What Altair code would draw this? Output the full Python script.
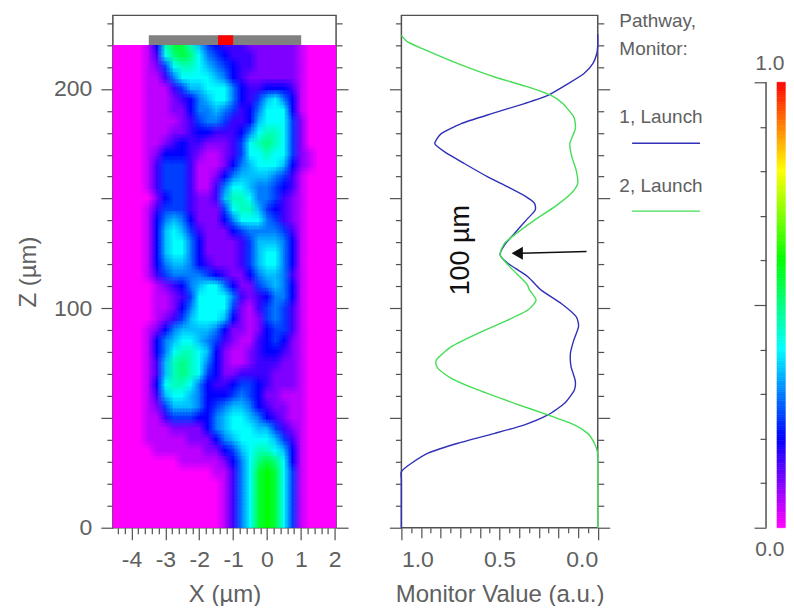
import altair as alt
import numpy as np
import pandas as pd

FONT = "Liberation Sans"
TXT = "#606060"
LINE = "#505050"

# heat map, rows from z=220 down to z=0 (5 um apart), columns x=-4.5..2.0 (0.25 um apart), in units of 0.05
z_rows = list(range(220, -5, -5))
x_cols = [-4.5 + 0.25 * i for i in range(27)]
heat_rows = [
 [0,0,0,0,1,4,9,11,11,9,7,5,4,3,3,3,2,2,2,2,2,2,1,0,0,0,0],
 [0,0,0,0,1,3,8,10,11,10,8,6,5,4,3,3,3,2,2,2,2,2,1,0,0,0,0],
 [0,0,0,0,1,2,5,8,9,9,8,7,6,5,4,3,3,2,2,2,2,2,1,0,0,0,0],
 [0,0,0,0,1,1,3,6,8,8,8,8,7,6,4,3,2,2,2,2,2,2,1,0,0,0,0],
 [0,0,0,0,1,1,1,3,5,7,7,8,8,8,6,4,3,3,4,4,4,3,1,0,0,0,0],
 [0,0,0,0,1,1,1,2,3,4,6,7,8,8,6,4,3,5,7,8,6,4,1,0,0,0,0],
 [0,0,0,0,1,1,1,2,2,4,6,6,7,6,5,3,4,6,8,8,8,4,1,0,0,0,0],
 [0,0,0,0,1,1,1,1,2,3,5,6,6,5,3,3,4,7,8,8,8,5,2,0,0,0,0],
 [0,0,0,0,1,1,1,2,2,3,4,4,3,3,3,4,6,8,9,9,8,5,2,0,0,0,0],
 [0,0,0,0,1,1,2,3,4,3,3,2,2,2,3,5,8,9,10,9,8,5,2,0,0,0,0],
 [0,0,0,0,1,2,4,4,4,3,2,1,1,2,3,5,8,8,9,8,8,5,2,1,0,0,0],
 [0,0,0,0,1,3,5,5,5,3,1,1,1,2,4,6,7,8,8,8,7,4,2,1,0,0,0],
 [0,0,0,0,1,3,5,5,5,3,1,1,2,4,6,7,7,7,7,6,5,3,1,0,0,0,0],
 [0,0,0,0,1,3,5,5,5,3,1,1,3,6,8,8,7,6,6,5,4,3,1,0,0,0,0],
 [0,0,0,0,0,2,4,5,5,3,2,2,3,7,9,9,8,6,6,5,3,2,1,0,0,0,0],
 [0,0,0,0,1,3,5,5,5,3,2,2,2,5,8,9,9,7,5,4,3,2,1,0,0,0,0],
 [0,0,0,0,1,4,6,7,6,4,2,2,2,4,6,8,8,8,6,5,3,2,1,0,0,0,0],
 [0,0,0,0,1,4,7,8,7,5,3,2,2,2,4,5,6,6,6,6,5,3,1,0,0,0,0],
 [0,0,0,0,1,4,7,8,8,6,4,2,2,2,2,3,5,7,7,7,6,4,1,0,0,0,0],
 [0,0,0,0,1,4,7,8,8,6,4,2,2,2,2,3,5,7,8,8,6,4,1,0,0,0,0],
 [0,0,0,0,1,4,6,7,7,6,4,3,2,2,2,3,5,7,8,8,6,4,1,0,0,0,0],
 [0,0,0,0,1,3,5,6,6,6,6,5,4,3,2,2,4,6,7,7,6,3,1,0,0,0,0],
 [0,0,0,0,0,1,2,3,4,6,7,8,8,6,4,2,2,5,6,7,6,4,1,0,0,0,0],
 [0,0,0,0,0,1,1,2,3,5,8,8,8,8,6,3,2,3,4,6,6,4,1,0,0,0,0],
 [0,0,0,0,0,1,1,2,4,6,8,8,8,8,5,2,1,3,5,6,5,3,1,0,0,0,0],
 [0,0,0,0,0,1,2,3,5,7,8,8,8,7,4,2,1,2,5,6,5,3,1,0,0,0,0],
 [0,0,0,0,1,2,4,6,7,7,7,7,6,4,2,2,1,2,4,5,5,3,1,0,0,0,0],
 [0,0,0,0,1,4,6,7,8,8,7,6,5,3,2,1,1,3,4,5,4,2,1,0,0,0,0],
 [0,0,0,0,1,4,6,8,9,9,8,7,4,2,1,1,2,3,4,4,3,2,1,0,0,0,0],
 [0,0,0,0,1,3,7,9,10,9,8,6,4,2,1,1,2,3,3,3,2,2,1,0,0,0,0],
 [0,0,0,0,1,3,7,9,10,9,8,5,4,2,2,3,3,3,3,2,2,2,1,0,0,0,0],
 [0,0,0,0,1,4,8,9,9,8,6,4,3,3,4,5,5,4,3,2,2,2,1,0,0,0,0],
 [0,0,0,0,1,3,7,8,8,7,6,4,4,4,5,6,5,4,2,2,1,1,1,0,0,0,0],
 [0,0,0,0,1,2,5,7,7,7,6,4,5,6,7,7,6,4,3,2,2,1,1,0,0,0,0],
 [0,0,0,0,1,1,3,5,5,5,4,4,6,7,8,8,7,6,4,3,2,1,1,0,0,0,0],
 [0,0,0,0,1,1,1,2,2,2,2,4,6,7,8,8,8,7,7,5,3,2,1,0,0,0,0],
 [0,0,0,0,1,1,1,1,1,2,2,2,4,6,7,8,8,8,8,7,5,3,1,0,0,0,0],
 [0,0,0,0,0,1,1,1,1,1,1,2,2,4,5,7,8,9,9,8,7,4,1,0,0,0,0],
 [0,0,0,0,0,0,0,0,1,1,1,1,1,2,4,6,8,10,11,10,8,4,1,0,0,0,0],
 [0,0,0,0,0,0,0,0,0,0,0,0,1,1,3,6,8,11,12,11,8,5,1,0,0,0,0],
 [0,0,0,0,0,0,0,0,0,0,0,0,0,1,3,6,8,11,12,11,8,5,1,0,0,0,0],
 [0,0,0,0,0,0,0,0,0,0,0,0,0,1,3,6,8,11,12,11,8,5,1,0,0,0,0],
 [0,0,0,0,0,0,0,0,0,0,0,0,0,1,3,6,8,11,12,11,8,5,1,0,0,0,0],
 [0,0,0,0,0,0,0,0,0,0,0,0,0,1,3,6,8,11,12,11,8,5,1,0,0,0,0],
 [0,0,0,0,0,0,0,0,0,0,0,0,0,1,3,6,8,11,12,11,8,5,1,0,0,0,0],
]

blue_z = [225,220,216,211.5,207,202.4,197,193.3,188.7,184.2,179.6,175,171.3,166,159.9,155.3,150.8,147.8,144.7,140.2,134.1,128.8,124.3,120.5,114.4,108.3,102.2,96.2,91.6,85.5,79.5,73.4,67.3,62.8,56.7,51.4,46.9,43,38.5,34,29.4,25.6,22,15,0]
blue_v = [0,0,.005,.025,.07,.15,.254,.373,.54,.695,.797,.83,.78,.68,.56,.458,.364,.322,.319,.364,.424,.475,.497,.458,.356,.288,.186,.11,.098,.122,.139,.136,.115,.119,.169,.254,.373,.525,.712,.864,.949,1,1,1,1]
green_z = [224.4,221.3,217.5,211.5,205.4,200.9,197,193.3,187.2,181.9,175,169,163,156.9,152.3,146.2,140.2,134.1,129.6,124.3,119,111.4,108.3,103.7,99.2,94.6,88.6,82.5,76.4,72.6,68.1,62.8,56.7,51.4,46.9,43,38.5,34,30,20,0]
green_v = [1,.966,.873,.712,.525,.356,.237,.178,.122,.114,.142,.132,.11,.102,.136,.22,.322,.415,.475,.497,.449,.364,.347,.314,.356,.458,.61,.746,.822,.814,.746,.61,.424,.254,.119,.051,.017,0,0,0,0]

color_stops = [0, .2, .4, .6, .8, 1]
color_hues = ["#ff00ff", "#0000ff", "#00ffff", "#00ff00", "#ffff00", "#ff0000"]
color_scale = alt.Scale(domain=color_stops, range=color_hues, interpolate="rgb")

ZMAX = 233.5
y_scale = alt.Scale(domain=[0, ZMAX], nice=False, zero=False)
x1_scale = alt.Scale(domain=[-4.55, 2.04], nice=False, zero=False)
x2_scale = alt.Scale(domain=[1, 0], nice=False, zero=False)
z_ticks = list(range(0, 231, 10))
x1_ticks = [round(-4.4 + 0.2 * i, 1) for i in range(33)]
x2_ticks = [round(i * 0.05, 2) for i in range(21)]
cb_ticks = [round(i * 0.1, 1) for i in range(11)]

z_size = alt.expr("datum.value % 50 === 0 ? 12 : 6")
common = dict(domain=False, tickColor=LINE, tickWidth=1.2, grid=False, labelFont=FONT, labelFontSize=23,
              labelColor=TXT, titleFont=FONT, titleFontSize=24, titleFontWeight="normal", titleColor=TXT, labelOverlap=False)

left_axis = alt.Axis(values=z_ticks, tickSize=z_size, orient="left", title="Z (µm)", titlePadding=13, labelPadding=9,
                     labelExpr="datum.value % 100 === 0 ? datum.label : ''", **common)
plain_left = alt.Axis(values=z_ticks, tickSize=z_size, orient="left", title=None, labels=False, **common)
right_axis = alt.Axis(values=z_ticks, tickSize=z_size, orient="right", title=None, labels=False, **common)
x1_axis = alt.Axis(values=x1_ticks, tickSize=alt.expr("abs(datum.value-round(datum.value))<0.001 ? 12 : 6"),
                   title="X (µm)", titlePadding=11, labelPadding=9,
                   labelExpr="abs(datum.value-round(datum.value))<0.001 ? ''+round(datum.value) : ''", **common)
x2_axis = alt.Axis(values=x2_ticks,
                   tickSize=alt.expr("abs(datum.value*2-round(datum.value*2))<0.001 ? 12 : (abs(datum.value*10-round(datum.value*10))<0.001 ? 10 : 5)"),
                   title="Monitor Value (a.u.)", titlePadding=11, labelPadding=9, format=".1f",
                   labelExpr="abs(datum.value*2-round(datum.value*2))<0.001 ? datum.label : ''", **common)

heat = pd.DataFrame([
    dict(x0=x - .14, x1=x + .14,
         z0=(-10 if z == 0 else z - 2.7), z1=(230 if z == 220 else z + 2.7), v=c / 20)
    for z, row in zip(z_rows, heat_rows) for x, c in zip(x_cols, row)])

base_right = pd.DataFrame({"z": [0]})
frame = alt.ViewConfig(stroke=LINE, strokeWidth=1.5)

# the picture is soft: each cell is drawn several times, slightly displaced, so that the steps blend
shifts = [(dx, dz) for dz in (-1.67, 0, 1.67) for dx in (-0.083, 0, 0.083)]
heat_layers = []
for k, (dx, dz) in enumerate(shifts):
    first = k == 0
    heat_layers.append(
        alt.Chart(heat).transform_calculate(
            xa=f"datum.x0+({dx})", xb=f"datum.x1+({dx})",
            za=f"clamp(datum.z0+({dz}),0,220)", zb=f"clamp(datum.z1+({dz}),0,220)"
        ).mark_rect(clip=True, opacity=1 / (k + 1), strokeWidth=0).encode(
            x=alt.X("xa:Q", scale=x1_scale, axis=x1_axis if first else None), x2="xb:Q",
            y=alt.Y("za:Q", scale=y_scale, axis=left_axis if first else None), y2="zb:Q",
            color=alt.Color("v:Q", scale=color_scale, legend=None)))

strip = pd.DataFrame({"a": [-3.49, -1.445], "b": [1.01, -1.0], "z0": [220, 220], "z1": [224.4, 224.4], "c": ["#808080", "#ff0000"]})
strip_layer = alt.Chart(strip).mark_rect().encode(
    x=alt.X("a:Q", scale=x1_scale, axis=None), x2="b:Q",
    y=alt.Y("z0:Q", scale=y_scale, axis=None), y2="z1:Q",
    fill=alt.Fill("c:N", scale=None))

right1 = alt.Chart(base_right).mark_point(opacity=0).encode(y=alt.Y("z:Q", scale=y_scale, axis=right_axis))
p1 = alt.layer(*heat_layers, strip_layer, right1).resolve_axis(y="independent", x="independent").properties(width=223.5, height=513, view=frame)

curves = pd.concat([
    pd.DataFrame({"z": blue_z, "v": blue_v, "s": "1", "o": range(len(blue_z))}),
    pd.DataFrame({"z": green_z, "v": green_v, "s": "2", "o": range(len(green_z))}),
])
line_layer = alt.Chart(curves).mark_line(strokeWidth=1.4, clip=False, interpolate="cardinal", tension=0.4).encode(
    x=alt.X("v:Q", scale=x2_scale, axis=x2_axis),
    y=alt.Y("z:Q", scale=y_scale, axis=plain_left),
    order="o:Q",
    color=alt.Color("s:N", scale=alt.Scale(domain=["1", "2"], range=["#3030b8", "#44dd55"]), legend=None))

legend_text = pd.DataFrame({
    "t": ["Pathway,", "Monitor:", "1, Launch", "2, Launch"],
    "v": [-0.11, -0.11, -0.11, -0.11],
    "z": [230.8, 218, 187, 155.7]})
legend_layer = alt.Chart(legend_text).mark_text(align="left", baseline="middle", font=FONT, fontSize=19, color=TXT).encode(
    x=alt.X("v:Q", scale=x2_scale, axis=None), y=alt.Y("z:Q", scale=y_scale, axis=None), text="t:N")

legend_rules = pd.DataFrame({"a": [-0.175, -0.175], "b": [-0.521, -0.521], "z": [175.2, 144.3], "s": ["1", "2"]})
legend_rule_layer = alt.Chart(legend_rules).mark_rule(strokeWidth=1.4).encode(
    x=alt.X("a:Q", scale=x2_scale, axis=None), x2="b:Q", y=alt.Y("z:Q", scale=y_scale, axis=None),
    color=alt.Color("s:N", scale=alt.Scale(domain=["1", "2"], range=["#3030b8", "#44dd55"]), legend=None))

note = pd.DataFrame({"t": ["100 µm"], "v": [0.698], "z": [126.5]})
note_layer = alt.Chart(note).mark_text(angle=270, font=FONT, fontSize=27, color="#111111", baseline="middle").encode(
    x=alt.X("v:Q", scale=x2_scale, axis=None), y=alt.Y("z:Q", scale=y_scale, axis=None), text="t:N")

arrow = pd.DataFrame({"v": [0.057, 0.39], "z": [125.9, 125.1]})
arrow_layer = alt.Chart(arrow).mark_line(color="#111111", strokeWidth=1.4).encode(
    x=alt.X("v:Q", scale=x2_scale, axis=None), y=alt.Y("z:Q", scale=y_scale, axis=None))
head = pd.DataFrame({"v": [0.41], "z": [125.1]})
head_layer = alt.Chart(head).mark_point(shape="triangle-left", filled=True, size=170, color="#111111", opacity=1).encode(
    x=alt.X("v:Q", scale=x2_scale, axis=None), y=alt.Y("z:Q", scale=y_scale, axis=None))

right2 = alt.Chart(base_right).mark_point(opacity=0).encode(y=alt.Y("z:Q", scale=y_scale, axis=right_axis))
p2 = alt.layer(line_layer, legend_layer, legend_rule_layer, note_layer, arrow_layer, head_layer, right2).resolve_axis(y="independent", x="independent").properties(width=196.6, height=513, view=frame)

# colour bar
cb_y = alt.Scale(domain=[0, 1.1502], nice=False, zero=False)
cb_x = alt.Scale(domain=[0, 1], nice=False, zero=False)
cb_levels = [round(i * 0.005, 3) for i in range(200)]
cb = pd.DataFrame({"y0": cb_levels, "y1": [round(l + 0.005, 3) for l in cb_levels], "a": 0.57, "b": 1.0, "v": cb_levels})
cb_layer = alt.Chart(cb).mark_rect(strokeWidth=0.6).encode(
    x=alt.X("a:Q", scale=cb_x, axis=None), x2="b:Q",
    y=alt.Y("y0:Q", scale=cb_y, axis=alt.Axis(values=cb_ticks, tickSize=alt.expr("abs(datum.value*2-round(datum.value*2))<0.001 ? 12 : 6"),
                                              labels=False, title=None, orient="left", **common)), y2="y1:Q",
    color=alt.Color("v:Q", scale=color_scale, legend=None),
    stroke=alt.Stroke("v:Q", scale=color_scale, legend=None))
cb_line = pd.DataFrame({"a": [0], "y0": [0], "y1": [1]})
cb_line_layer = alt.Chart(cb_line).mark_rule(color=LINE, strokeWidth=1.5).encode(
    x=alt.X("a:Q", scale=cb_x, axis=None), y=alt.Y("y0:Q", scale=cb_y, axis=None), y2="y1:Q")
cb_text = pd.DataFrame({"t": ["1.0", "0.0"], "a": [0.2, 0.2], "y": [1.0, 0]})
cb_text_top = alt.Chart(cb_text[cb_text.y > 0]).mark_text(font=FONT, fontSize=21, color=TXT, dy=-18, baseline="middle").encode(
    x=alt.X("a:Q", scale=cb_x, axis=None), y=alt.Y("y:Q", scale=cb_y, axis=None), text="t:N")
cb_text_bot = alt.Chart(cb_text[cb_text.y == 0]).mark_text(font=FONT, fontSize=21, color=TXT, dy=22, baseline="middle").encode(
    x=alt.X("a:Q", scale=cb_x, axis=None), y=alt.Y("y:Q", scale=cb_y, axis=None), text="t:N")
p3 = alt.layer(cb_layer, cb_line_layer, cb_text_top, cb_text_bot).resolve_axis(y="independent").properties(width=19.3, height=513, view=alt.ViewConfig(stroke=None))

chart = alt.hconcat(alt.hconcat(p1, p2, spacing=37.9), p3, spacing=49).resolve_scale(color="independent", y="independent", x="independent").properties(
    padding={"left": 7, "top": 2, "right": 0, "bottom": -2.5}, background="white")
chart.save("out.html", embed_options={"renderer": "svg", "actions": False})
